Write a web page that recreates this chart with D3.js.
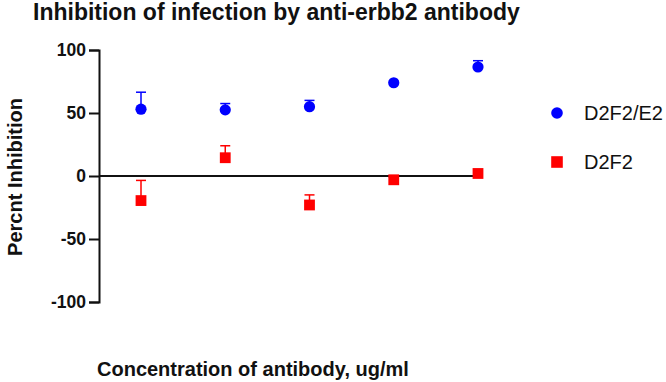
<!DOCTYPE html>
<html>
<head>
<meta charset="utf-8">
<script src="https://cdn.jsdelivr.net/npm/d3@7"></script>
<style>
  html, body { margin: 0; padding: 0; background: #fff; }
  svg { display: block; }
  text { font-family: "Liberation Sans", Arial, sans-serif; }
</style>
</head>
<body>
<svg id="chart" width="666" height="382"></svg>
<script>
const categories = ["c1", "c2", "c3", "c4", "c5"];
const seriesNames = ["D2F2/E2", "D2F2"];
const d2f2e2Mean = [53, 52.5, 55, 74, 86.5];
const d2f2e2ErrTop = [66.5, 57.5, 60, 74, 91.5];
const d2f2Mean = [-19.5, 14.5, -23, -3, 2];
const d2f2ErrTop = [-3.5, 24, -15, -1, 2];
const yTicks = [-100, -50, 0, 50, 100];
const titleText = "Inhibition of infection by anti-erbb2 antibody";
const xLabel = "Concentration of antibody, ug/ml";
const yLabel = "Percnt Inhibition";

const svg = d3.select("#chart");
const x = d3.scalePoint().domain(categories).range([141, 478]);
const y = d3.scaleLinear().domain([-100, 100]).range([302, 50]);
const axisLeftX = 99;

// title
svg.append("text").attr("x", 33).attr("y", 20)
  .attr("font-size", 23).attr("font-weight", "bold").attr("fill", "#111")
  .text(titleText);

// y axis
const yAxis = d3.axisLeft(y).tickValues(yTicks).tickSize(10).tickPadding(3).tickFormat(d3.format("d"));
const gy = svg.append("g").attr("transform", `translate(${axisLeftX},0)`).call(yAxis);
gy.select(".domain").attr("stroke", "#111").attr("stroke-width", 2);
gy.selectAll(".tick line").attr("stroke", "#111").attr("stroke-width", 2);
gy.selectAll(".tick text").attr("font-size", 17.5).attr("font-weight", "bold").attr("fill", "#111")
  .attr("font-family", "Liberation Sans, Arial, sans-serif")
  .text(d => d < 0 ? "-" + Math.abs(d) : d);

// x axis (zero line)
const xAxis = d3.axisBottom(x).tickSize(0).tickFormat("");
const gx = svg.append("g").attr("transform", `translate(0,${y(0)})`).call(xAxis);
gx.select(".domain").attr("d", `M${axisLeftX},0H481`).attr("stroke", "#111").attr("stroke-width", 2);

// axis labels
svg.append("text").attr("transform", `translate(15,${y(0) + 1}) rotate(-90)`)
  .attr("text-anchor", "middle").attr("dominant-baseline", "central")
  .attr("font-size", 20).attr("font-weight", "bold").attr("fill", "#111").text(yLabel);
svg.append("text").attr("x", 97).attr("y", 376)
  .attr("font-size", 20).attr("font-weight", "bold").attr("fill", "#111").text(xLabel);

// series
const series = [
  { name: seriesNames[0], mean: d2f2e2Mean, top: d2f2e2ErrTop, color: "#0000ff", shape: "circle" },
  { name: seriesNames[1], mean: d2f2Mean, top: d2f2ErrTop, color: "#ff0000", shape: "square" }
];

series.forEach(s => {
  const g = svg.append("g");
  const data = categories.map((c, i) => ({ c, m: s.mean[i], t: s.top[i] }));
  g.selectAll("line.err").data(data.filter(d => d.t > d.m)).join("line")
    .attr("x1", d => x(d.c)).attr("x2", d => x(d.c))
    .attr("y1", d => y(d.m)).attr("y2", d => y(d.t))
    .attr("stroke", s.color).attr("stroke-width", 1.5);
  g.selectAll("line.cap").data(data.filter(d => d.t > d.m)).join("line")
    .attr("x1", d => x(d.c) - 5).attr("x2", d => x(d.c) + 5)
    .attr("y1", d => y(d.t)).attr("y2", d => y(d.t))
    .attr("stroke", s.color).attr("stroke-width", 1.5);
  if (s.shape === "circle") {
    g.selectAll("circle").data(data).join("circle")
      .attr("cx", d => x(d.c)).attr("cy", d => y(d.m)).attr("r", 5.6).attr("fill", s.color);
  } else {
    g.selectAll("rect").data(data).join("rect")
      .attr("x", d => x(d.c) - 5.4).attr("y", d => y(d.m) - 5.4)
      .attr("width", 10.8).attr("height", 10.8).attr("fill", s.color);
  }
});

// legend
const legend = svg.append("g");
series.forEach((s, i) => {
  const ly = 113 + i * 49;
  if (s.shape === "circle") {
    legend.append("circle").attr("cx", 557).attr("cy", ly).attr("r", 5.8).attr("fill", s.color);
  } else {
    legend.append("rect").attr("x", 551.2).attr("y", ly - 5.8).attr("width", 11.6).attr("height", 11.6).attr("fill", s.color);
  }
  legend.append("text").attr("x", 584).attr("y", ly).attr("dominant-baseline", "central")
    .attr("font-size", 20).attr("fill", "#111").text(s.name);
});
</script>
</body>
</html>
